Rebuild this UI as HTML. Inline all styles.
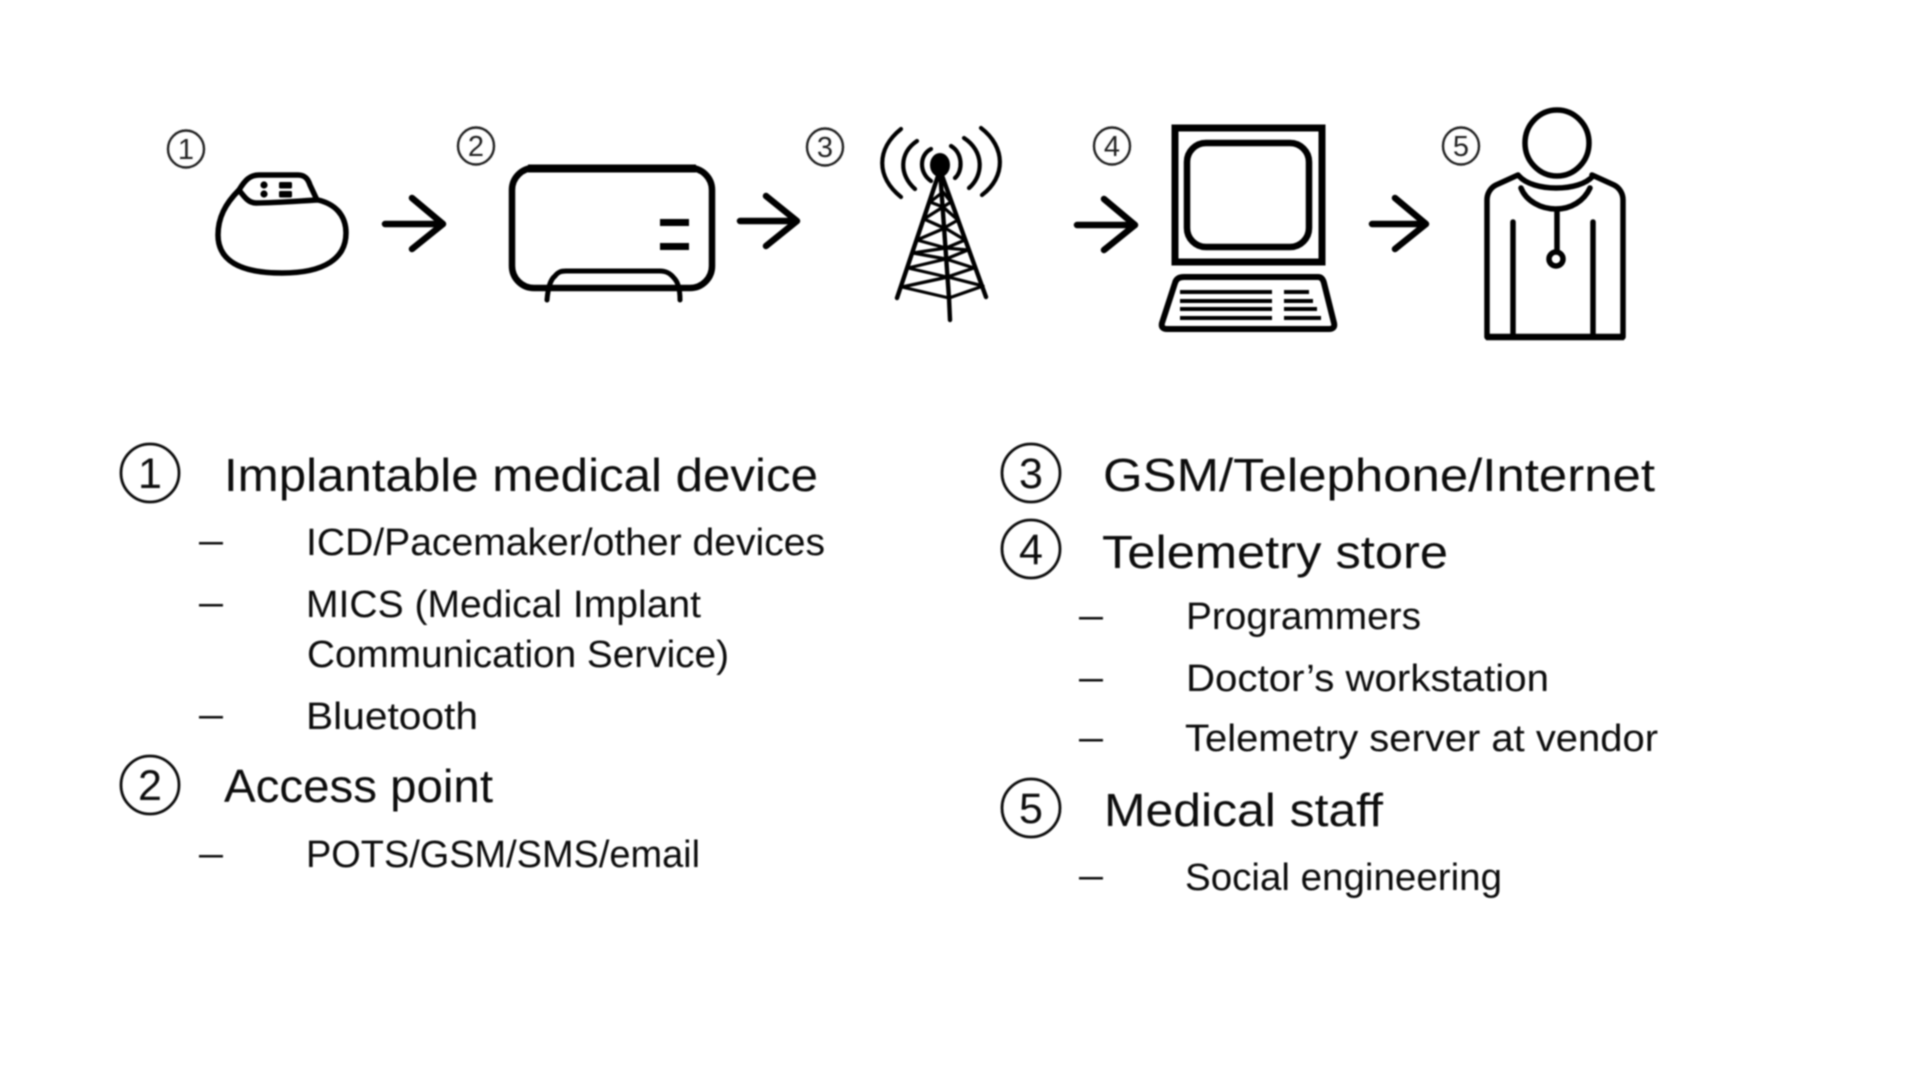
<!DOCTYPE html>
<html><head><meta charset="utf-8"><title>Medical device telemetry</title>
<style>
html,body{margin:0;padding:0;background:#fff;width:1920px;height:1080px;overflow:hidden}
svg{display:block}
text{font-family:"Liberation Sans",sans-serif;fill:#0c0c0c}
.h{font-size:46px}
.s{font-size:38px}
.d{font-size:38px}
.n{font-size:43px;text-anchor:middle}
.m{font-size:29px;text-anchor:middle;fill:#222}
.ic{fill:none;stroke:#000;stroke-linecap:round;stroke-linejoin:round}
</style></head><body>
<svg width="1920" height="1080" viewBox="0 0 1920 1080" xmlns="http://www.w3.org/2000/svg">
<defs><filter id="b" x="-5%" y="-5%" width="110%" height="110%"><feGaussianBlur stdDeviation="0.7"/></filter></defs>
<rect width="1920" height="1080" fill="#fff"/>
<g filter="url(#b)">
<!-- small numbered markers -->
<g fill="none" stroke="#222" stroke-width="2.4">
<ellipse cx="186" cy="149" rx="18" ry="18.5"/>
<ellipse cx="476" cy="146" rx="18" ry="18.5"/>
<ellipse cx="825" cy="147" rx="18" ry="18.5"/>
<ellipse cx="1112" cy="146" rx="18" ry="18.5"/>
<ellipse cx="1461" cy="146" rx="18" ry="18.5"/>
</g>
<text class="m" x="186" y="159">1</text>
<text class="m" x="476" y="156">2</text>
<text class="m" x="825" y="157">3</text>
<text class="m" x="1112" y="156">4</text>
<text class="m" x="1461" y="156">5</text>

<!-- pacemaker -->
<g class="ic" stroke-width="5.5" transform="translate(-1 0)">
<path d="M240 190C226 204 219 218 219 235C219 260 240 273 283 273C326 273 347 258 347 233C347 215 336 204 319 200"/>
<path d="M240 190C246 180 251 175 260 175H299C306 175 309 179 311 185L318 200C300 201 275 203 257 203C250 203 246 198 240 190Z"/>
</g>
<g fill="#000" transform="translate(-1 0)">
<circle cx="265" cy="185" r="3.6"/><circle cx="265" cy="194" r="3.6"/>
<rect x="280" y="182" width="13" height="6.5" rx="1.5"/><rect x="280" y="191" width="13" height="6.5" rx="1.5"/>
</g>

<!-- arrows -->
<g class="ic" stroke-width="6.5" stroke-linecap="butt">
<path d="M385 224H441M412 198L443 224L412 249"/>
<path d="M740 221H796M766 196L797 221L766 246"/>
<path d="M1077 225H1133M1104 199L1135 225L1104 250"/>
<path d="M1372 224H1424M1395 198L1426 224L1395 249"/>
</g>

<!-- access point -->
<rect x="512" y="168" width="200" height="120" rx="22" fill="none" stroke="#000" stroke-width="6.5"/>
<path d="M528 168.5H696" stroke="#000" stroke-width="8"/>
<rect x="660" y="219" width="29" height="7" fill="#000"/>
<rect x="660" y="243" width="29" height="7" fill="#000"/>
<path class="ic" stroke-width="5" stroke-linecap="butt" d="M547 300C548 288 550 280 555 276C558 272 561 271 566 271H660C666 271 670 273 674 278C678 282 680 290 680 300"/>

<!-- tower -->
<g class="ic" stroke-width="4.2">
<path d="M901 129C876 149 876 177 901 197"/>
<path d="M917 141C899 153 899 175 915 189"/>
<path d="M931 149C919 155 919 173 931 181"/>
<path d="M951 146C963 153 963 171 955 178"/>
<path d="M964 138C984 151 984 175 969 188"/>
<path d="M981 128C1006 147 1006 177 982 195"/>
</g>
<ellipse cx="940" cy="165" rx="10" ry="12" fill="#000"/>
<g class="ic" stroke-width="4.4">
<path d="M940 170L897 298M940 170L986 297M940 170L949 298L950 320"/>
</g>
<g class="ic" stroke-width="3.2">
<path d="M930 202L943 207L951 202M924 219L944 228L958 220M917 240L946 248L965 240"/>
<path d="M913 253L946 259L968 250M908 268L947 277L974 268M902 287L949 298L983 286"/>
<path d="M930 202L943 192L951 202M924 219L943 207L958 220M917 240L945 228L965 240"/>
<path d="M913 253L946 248L968 250M908 268L946 259L974 268M902 287L948 277L983 286"/>
</g>

<!-- computer -->
<rect x="1175" y="128" width="147" height="134" fill="none" stroke="#000" stroke-width="7"/>
<rect x="1187" y="143" width="122" height="104" rx="19" fill="none" stroke="#000" stroke-width="6.5"/>
<path class="ic" stroke-width="6" transform="translate(-2 0)" d="M1186 277H1320C1323 277 1325 279 1326 283L1336 323C1337 327 1335 329 1331 329H1169C1165 329 1163 327 1164 323L1177 283C1178 279 1181 277 1186 277Z"/>
<g stroke="#000" stroke-width="4" fill="none" transform="translate(-2 0)">
<path d="M1182 292H1274M1182 301H1274M1182 309H1274M1182 318H1274"/>
<path d="M1286 292H1311M1286 301H1315M1286 309H1319M1286 318H1323"/>
</g>

<!-- staff -->
<g transform="translate(-4 0)">
<g class="ic" stroke-width="5.5">
<ellipse cx="1561" cy="143" rx="32" ry="33"/>
<path d="M1522 175L1500 185C1494 188 1491 194 1491 200V337H1627V200C1627 194 1624 188 1618 185L1596 175"/>
<path d="M1523 176C1530 184 1545 188 1560 188C1576 188 1590 184 1597 176"/>
<path d="M1525 188C1530 201 1545 209 1560 209C1575 209 1588 201 1594 188"/>
<path d="M1561 209V250"/>
<path d="M1517 222V337M1597 222V337"/>
<circle cx="1560" cy="259" r="7"/>
</g>
<path d="M1490 337H1628" stroke="#000" stroke-width="6.5"/>
</g>

<!-- large number circles -->
<g fill="none" stroke="#111" stroke-width="2.8">
<circle cx="150" cy="473" r="29"/>
<circle cx="150" cy="785" r="29"/>
<circle cx="1031" cy="473" r="29"/>
<circle cx="1031" cy="549" r="29"/>
<circle cx="1031" cy="808" r="29"/>
</g>
<text class="n" x="150" y="488">1</text>
<text class="n" x="150" y="800">2</text>
<text class="n" x="1031" y="488">3</text>
<text class="n" x="1031" y="564">4</text>
<text class="n" x="1031" y="823">5</text>

<!-- left column -->
<text class="h" x="224" y="491" textLength="594" lengthAdjust="spacingAndGlyphs">Implantable medical device</text>
<text class="d" x="199" y="553" textLength="24" lengthAdjust="spacingAndGlyphs">–</text>
<text class="s" x="306" y="555" textLength="519" lengthAdjust="spacingAndGlyphs">ICD/Pacemaker/other devices</text>
<text class="d" x="199" y="615" textLength="24" lengthAdjust="spacingAndGlyphs">–</text>
<text class="s" x="306" y="617" textLength="395" lengthAdjust="spacingAndGlyphs">MICS (Medical Implant</text>
<text class="s" x="307" y="667" textLength="422" lengthAdjust="spacingAndGlyphs">Communication Service)</text>
<text class="d" x="199" y="727" textLength="24" lengthAdjust="spacingAndGlyphs">–</text>
<text class="s" x="306" y="729" textLength="172" lengthAdjust="spacingAndGlyphs">Bluetooth</text>
<text class="h" x="224" y="802" textLength="269" lengthAdjust="spacingAndGlyphs">Access point</text>
<text class="d" x="199" y="866" textLength="24" lengthAdjust="spacingAndGlyphs">–</text>
<text class="s" x="306" y="867" textLength="394" lengthAdjust="spacingAndGlyphs">POTS/GSM/SMS/email</text>

<!-- right column -->
<text class="h" x="1103" y="491" textLength="552" lengthAdjust="spacingAndGlyphs">GSM/Telephone/Internet</text>
<text class="h" x="1102" y="568" textLength="346" lengthAdjust="spacingAndGlyphs">Telemetry store</text>
<text class="d" x="1079" y="628" textLength="24" lengthAdjust="spacingAndGlyphs">–</text>
<text class="s" x="1186" y="629" textLength="235" lengthAdjust="spacingAndGlyphs">Programmers</text>
<text class="d" x="1079" y="690" textLength="24" lengthAdjust="spacingAndGlyphs">–</text>
<text class="s" x="1186" y="691" textLength="363" lengthAdjust="spacingAndGlyphs">Doctor’s workstation</text>
<text class="d" x="1079" y="750" textLength="24" lengthAdjust="spacingAndGlyphs">–</text>
<text class="s" x="1185" y="751" textLength="473" lengthAdjust="spacingAndGlyphs">Telemetry server at vendor</text>
<text class="h" x="1104" y="826" textLength="279" lengthAdjust="spacingAndGlyphs">Medical staff</text>
<text class="d" x="1079" y="888" textLength="24" lengthAdjust="spacingAndGlyphs">–</text>
<text class="s" x="1185" y="890" textLength="317" lengthAdjust="spacingAndGlyphs">Social engineering</text>
</g>
</svg>
</body></html>
